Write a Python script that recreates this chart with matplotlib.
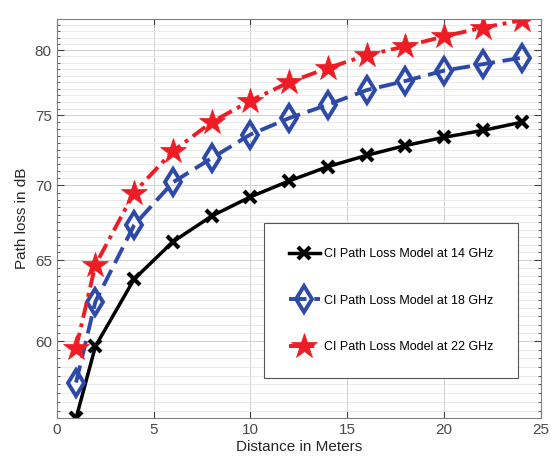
import numpy as np
import matplotlib
matplotlib.use("Agg")
import matplotlib.pyplot as plt
from matplotlib.ticker import FixedLocator, NullFormatter

# distancias (m) e perdas (dB)
dist = [1, 2, 4, 6, 8, 10, 12, 14, 16, 18, 20, 22, 24]
pl_14 = [55.6, 59.7, 63.8, 66.2, 67.9, 69.2, 70.3, 71.3, 72.1, 72.8, 73.4, 73.9, 74.5]
pl_18 = [57.6, 62.4, 67.3, 70.2, 71.9, 73.6, 74.8, 75.8, 76.9, 77.6, 78.4, 78.9, 79.4]
pl_22 = [59.6, 64.7, 69.5, 72.4, 74.5, 76.1, 77.5, 78.6, 79.6, 80.3, 81.1, 81.8, 82.4]

rotulos = ["CI Path Loss Model at 14 GHz",
           "CI Path Loss Model at 18 GHz",
           "CI Path Loss Model at 22 GHz"]

plt.rcParams['font.family'] = ['Liberation Sans', 'DejaVu Sans']

fig = plt.figure(figsize=(5.54, 4.68), dpi=100)
ax = fig.add_axes([0.1023, 0.1062, 0.8742, 0.8532])

ax.plot(dist, pl_14, color="black", lw=2.5, ls="-", marker="x",
        markersize=9, mew=3, label=rotulos[0])
ax.plot(dist, pl_18, color="#2d4aa8", lw=2.8, ls=(0, (4.5, 2)), marker="d",
        markersize=13, mew=2.8, mfc="none", label=rotulos[1])
ax.plot(dist, pl_22, color="#ee1c25", lw=2.8, ls=(0, (4, 1.5, 1, 1.5)), marker="*",
        markersize=19, mew=0.5, label=rotulos[2])

ax.set_yscale("log")
ax.set_xlim(0, 25)
ax.set_ylim(55.6, 82.5)
ax.yaxis.set_major_locator(FixedLocator([60, 65, 70, 75, 80]))
ax.yaxis.set_minor_locator(FixedLocator(np.arange(55.5, 83, 0.5)))
ax.yaxis.set_major_formatter(matplotlib.ticker.FixedFormatter(["60", "65", "70", "75", "80"]))
ax.yaxis.set_minor_formatter(NullFormatter())
ax.set_xticks([0, 5, 10, 15, 20, 25])

ax.grid(True, which="major", color="#d0d0d0", lw=0.7)
ax.grid(True, which="minor", axis="y", color="#e6e6e6", lw=0.6)
ax.tick_params(which="both", direction="in", top=True, right=True,
               labelsize=11, colors="#404040", labelcolor="#4a4a4a")
ax.tick_params(which="major", length=5)
ax.tick_params(which="minor", length=2.5)
for s in ax.spines.values():
    s.set_color("#808080")
    s.set_linewidth(0.8)

ax.set_xlabel("Distance in Meters", fontsize=11, color="#262626", labelpad=2)
ax.set_ylabel("Path loss in dB", fontsize=11, color="#262626", labelpad=4)

leg = ax.legend(loc="lower right", bbox_to_anchor=(0.9525, 0.101), fontsize=9,
                labelspacing=2.75, borderpad=2.0, handlelength=2.5,
                handletextpad=0.3, fancybox=False, framealpha=1,
                edgecolor="#555555", borderaxespad=0)
leg.get_frame().set_linewidth(0.8)

fig.savefig("out.png", dpi=100)
